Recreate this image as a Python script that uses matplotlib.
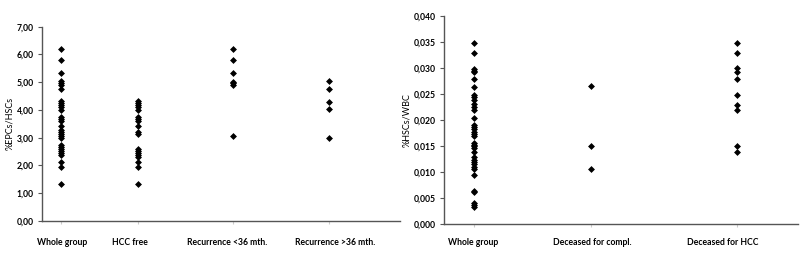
import matplotlib
matplotlib.use("Agg")
import matplotlib.pyplot as plt
from matplotlib.ticker import FuncFormatter, MultipleLocator

plt.rcParams['font.family'] = ['Lato', 'DejaVu Sans']

# ---- Left panel data ----
left_categories = ["Whole group", "HCC free", "Recurrence <36 mth.", "Recurrence >36 mth."]
left_x = [0.053, 0.268, 0.534, 0.802]
left_label_x = [0.056, 0.246, 0.517, 0.818]
whole_epc = [6.18, 5.80, 5.33, 5.06, 4.98, 4.90, 4.77, 4.32, 4.26, 4.19, 4.09, 4.00,
             3.76, 3.69, 3.61, 3.43, 3.29, 3.22, 3.15, 3.06, 2.98, 2.74, 2.68, 2.61,
             2.53, 2.46, 2.38, 2.14, 1.95, 1.33]
hccfree_epc = [4.32, 4.26, 4.19, 4.09, 4.00, 3.76, 3.69, 3.61, 3.43, 3.22, 3.15,
               2.61, 2.53, 2.46, 2.38, 2.30, 2.14, 1.95, 1.33]
rec_lt36_epc = [6.18, 5.80, 5.33, 5.02, 4.96, 4.90, 3.06]
rec_gt36_epc = [5.05, 4.77, 4.30, 4.02, 3.00]
left_series = [whole_epc, hccfree_epc, rec_lt36_epc, rec_gt36_epc]

# ---- Right panel data ----
right_categories = ["Whole group", "Deceased for compl.", "Deceased for HCC"]
right_x = [0.084, 0.416, 0.829]
right_label_x = [0.081, 0.419, 0.787]
whole_hsc = [0.0349, 0.0329, 0.0299, 0.0295, 0.0292, 0.0279, 0.0264, 0.0248, 0.0244,
             0.0239, 0.0232, 0.0226, 0.0220, 0.0204, 0.0190, 0.0187, 0.0183, 0.0178,
             0.0174, 0.0169, 0.0157, 0.0153, 0.0150, 0.0146, 0.0140, 0.0129, 0.0124,
             0.0120, 0.0116, 0.0111, 0.0107, 0.0094, 0.0065, 0.0062, 0.0041, 0.0038,
             0.0034]
dec_compl_hsc = [0.0265, 0.0150, 0.0106]
dec_hcc_hsc = [0.0349, 0.0329, 0.0300, 0.0293, 0.0279, 0.0248, 0.0230, 0.0220,
               0.0150, 0.0140]
right_series = [whole_hsc, dec_compl_hsc, dec_hcc_hsc]

fig = plt.figure(figsize=(8.0, 2.63), dpi=100)
ax1 = fig.add_axes([0.0525, 0.160, 0.4475, 0.7385])
ax2 = fig.add_axes([0.555, 0.1465, 0.442, 0.7925])


def style(ax, xs, cats, label_xs, ylim, step, fmt, ylabel, label_y):
    ax.set_xlim(0, 1)
    ax.set_ylim(*ylim)
    ax.yaxis.set_major_locator(MultipleLocator(step))
    ax.yaxis.set_major_formatter(FuncFormatter(lambda v, p: fmt.format(v).replace('.', ',')))
    for s in ['top', 'right']:
        ax.spines[s].set_visible(False)
    for s in ['left', 'bottom']:
        ax.spines[s].set_color('#555555')
        ax.spines[s].set_linewidth(1.0)
    ax.set_xticks(xs)
    ax.set_xticklabels([])
    ax.tick_params(axis='x', length=2, color='#cccccc')
    ax.tick_params(axis='y', length=3, color='#555555', labelsize=6.2, pad=3)
    for t in ax.get_yticklabels():
        t.set_fontweight('bold')
    ax.set_ylabel(ylabel, fontsize=6.5, labelpad=2)
    for lx, c in zip(label_xs, cats):
        ax.text(lx, label_y, c, transform=ax.transAxes, ha='center', va='center',
                fontsize=6.2, fontweight='bold')


for x, vals in zip(left_x, left_series):
    ax1.plot([x] * len(vals), vals, linestyle='none', marker='D', markersize=3.0,
             color='black', markeredgewidth=0.5)
for x, vals in zip(right_x, right_series):
    ax2.plot([x] * len(vals), vals, linestyle='none', marker='D', markersize=3.0,
             color='black', markeredgewidth=0.5)

style(ax1, left_x, left_categories, left_label_x, (0, 7), 1, "{:.2f}", "%EPCs/HSCs", -0.113)
style(ax2, right_x, right_categories, right_label_x, (0, 0.040), 0.005, "{:.3f}", "%HSCs/WBC", -0.085)

fig.savefig("out.png", dpi=100)
